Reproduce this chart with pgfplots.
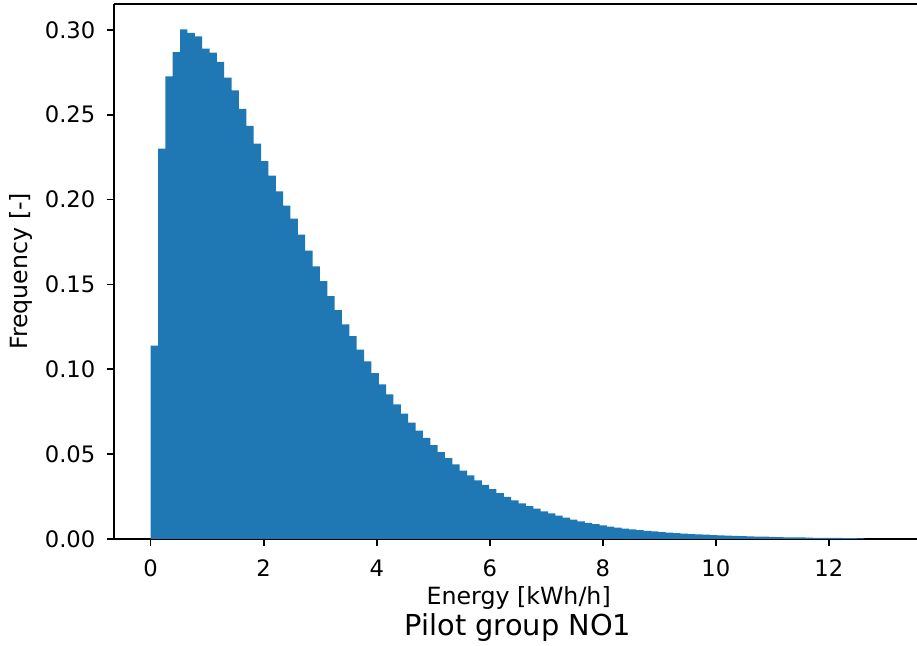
\documentclass[border=0pt]{standalone}
\usepackage{pgfplots}
\usepackage{pgfplotstable}
\pgfplotsset{compat=1.18}
\usepackage{fontspec}
\setmainfont{DejaVu Sans}
\definecolor{mplblue}{HTML}{1F77B4}
\pgfplotstableread{
x y
0 0.1140
0.1302 0.2300
0.2604 0.2726
0.3906 0.2869
0.5208 0.3003
0.6510 0.2983
0.7812 0.2962
0.9114 0.2889
1.0416 0.2866
1.1718 0.2811
1.3020 0.2718
1.4322 0.2643
1.5624 0.2535
1.6926 0.2435
1.8228 0.2329
1.9530 0.2227
2.0832 0.2141
2.2134 0.2048
2.3436 0.1964
2.4738 0.1887
2.6040 0.1793
2.7342 0.1699
2.8644 0.1606
2.9946 0.1520
3.1248 0.1431
3.2550 0.1349
3.3852 0.1264
3.5154 0.1195
3.6456 0.1115
3.7758 0.1046
3.9060 0.0977
4.0362 0.0911
4.1664 0.0852
4.2966 0.0793
4.4268 0.0738
4.5570 0.0685
4.6872 0.0639
4.8174 0.0596
4.9476 0.0553
5.0778 0.0512
5.2080 0.0476
5.3382 0.0439
5.4684 0.0402
5.5986 0.0374
5.7288 0.0345
5.8590 0.0319
5.9892 0.0294
6.1194 0.0270
6.2496 0.0248
6.3798 0.0228
6.5100 0.0210
6.6402 0.0193
6.7704 0.0178
6.9006 0.0163
7.0308 0.0150
7.1610 0.0137
7.2912 0.0125
7.4214 0.0114
7.5516 0.0104
7.6818 0.0095
7.8120 0.0087
7.9422 0.0080
8.0724 0.0073
8.2026 0.0067
8.3328 0.0061
8.4630 0.0056
8.5932 0.0052
8.7234 0.0048
8.8536 0.0044
8.9838 0.0040
9.1140 0.0037
9.2442 0.0034
9.3744 0.0031
9.5046 0.0029
9.6348 0.0027
9.7650 0.0025
9.8952 0.0023
10.0254 0.0021
10.1556 0.0019
10.2858 0.0018
10.4160 0.0016
10.5462 0.0015
10.6764 0.0014
10.8066 0.0013
10.9368 0.0012
11.0670 0.0011
11.1972 0.0010
11.3274 0.0009
11.4576 0.0009
11.5878 0.0008
11.7180 0.0007
11.8482 0.0007
11.9784 0.0006
12.1086 0.0006
12.2388 0.0005
12.3690 0.0005
12.4992 0.0004
12.6294 0.0004
}\histdata
\begin{document}
\begin{tikzpicture}
\begin{axis}[
  scale only axis,
  width=389.8pt, height=259.7pt,
  xmin=-0.65, xmax=13.56,
  ymin=0, ymax=0.3153,
  axis x line*=bottom, axis y line*=left,
  axis line style={-, line width=0.8pt, black},
  tick align=outside,
  major tick length=3.5pt,
  tick style={line width=0.8pt, black},
  xtick={0,2,4,6,8,10,12},
  ytick={0,0.05,0.1,0.15,0.2,0.25,0.3},
  /pgf/number format/assume math mode=true,
  ticklabel style={font=\fontsize{11}{13}\selectfont},
  xticklabel style={yshift=-3pt},
  yticklabel style={xshift=-2pt, /pgf/number format/.cd, fixed, fixed zerofill, precision=2},
  label style={font=\fontsize{11.5}{14}\selectfont},
  xlabel={Energy [kWh/h]},
  ylabel={Frequency [-]},
  xlabel style={at={(axis description cs:0.504,-0.1101)}, anchor=center},
  ylabel style={at={(axis description cs:-0.1157,0.5)}, anchor=center},
  clip=false,
]
\addplot[const plot mark left, fill=mplblue, draw=none] table[x=x, y=y] {\histdata} \closedcycle;
\draw[line width=0.8pt, black] (rel axis cs:0,1) -- (rel axis cs:1,1);
\node[font=\fontsize{14}{16}\selectfont, anchor=center] at (axis description cs:0.503,-0.1664) {Pilot group NO1};
\end{axis}
\pgfresetboundingbox
\path[use as bounding box] ([xshift=-55.3pt,yshift=-51.9pt]current axis.south west) rectangle ([yshift=1.9pt]current axis.north east);
\end{tikzpicture}
\end{document}
